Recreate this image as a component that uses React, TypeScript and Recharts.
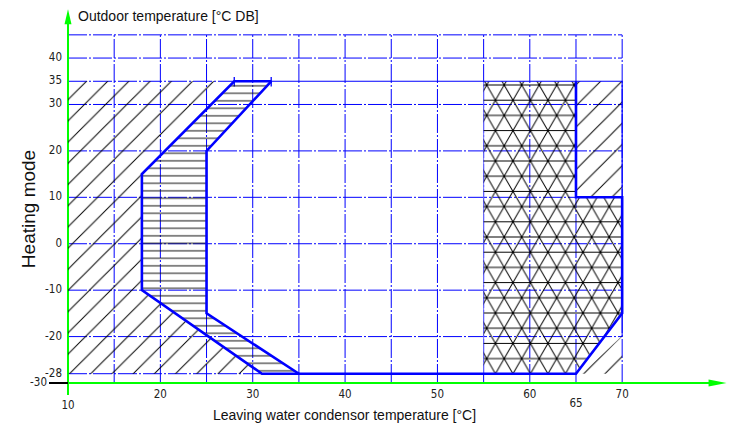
import React from "react";
import {
  ComposedChart,
  XAxis,
  YAxis,
  Scatter,
  ReferenceLine,
  ReferenceDot,
} from "recharts";

type Pt = { x: number; y: number };

// axis ticks and grid
const xTicks = [10, 20, 30, 40, 50, 60, 65, 70];
const yTicks = [-30, -28, -20, -10, 0, 10, 20, 30, 35, 40];
const gridX = [15, 20, 25, 30, 35, 40, 45, 50, 55, 60, 65, 70];
const gridY = [-20, -10, 0, 10, 20, 30, 40, 45];

// operating envelope (thick blue)
const envelopeOuter: Pt[] = [
  { x: 32, y: 35 },
  { x: 28, y: 35 },
  { x: 18, y: 15 },
  { x: 18, y: -10 },
  { x: 31, y: -28 },
  { x: 65, y: -28 },
  { x: 70, y: -15 },
  { x: 70, y: 10 },
  { x: 65, y: 10 },
  { x: 65, y: 35 },
];
const envelopeInner: Pt[] = [
  { x: 32, y: 35 },
  { x: 25, y: 20 },
  { x: 25, y: -15 },
  { x: 35, y: -28 },
];

// hatched zones
const leftHatch: Pt[] = [
  { x: 10, y: 35 },
  { x: 28, y: 35 },
  { x: 18, y: 15 },
  { x: 18, y: -10 },
  { x: 31, y: -28 },
  { x: 10, y: -28 },
];
const transitionBand: Pt[] = [
  { x: 28, y: 35 },
  { x: 32, y: 35 },
  { x: 25, y: 20 },
  { x: 25, y: -15 },
  { x: 35, y: -28 },
  { x: 31, y: -28 },
  { x: 18, y: -10 },
  { x: 18, y: 15 },
];
const highTempZone: Pt[] = [
  { x: 55, y: 35 },
  { x: 65, y: 35 },
  { x: 65, y: 10 },
  { x: 70, y: 10 },
  { x: 70, y: -15 },
  { x: 65, y: -28 },
  { x: 55, y: -28 },
];
const rightHatch: Pt[] = [
  { x: 65, y: 35 },
  { x: 70, y: 35 },
  { x: 70, y: 10 },
  { x: 65, y: 10 },
];
const cornerHatch: Pt[] = [
  { x: 65.6, y: -28 },
  { x: 70, y: -19.8 },
  { x: 70, y: -28 },
];

// thin solid borders
const thinTop: Pt[] = [
  { x: 28, y: 35 },
  { x: 70, y: 35 },
  { x: 70, y: 10 },
];
const thinCorner: Pt[] = [
  { x: 70, y: -15 },
  { x: 70, y: -20 },
];
const capMarks = [28, 32];

const BLUE = "#0000ff";
const GREEN = "#00ff00";
const DASH = "19 2 2 2";
const narrow = "'Liberation Sans Narrow', 'Arial Narrow', 'DejaVu Sans Condensed', sans-serif";
const sans = "'Liberation Sans', Arial, sans-serif";

const toStr = (pts: Pt[]) => (pts ?? []).map((q) => `${q.x},${q.y}`).join(" ");

const Patterns = () => {
  const w = 17.5;
  const h = 15.2;
  return (
    <defs>
      <pattern id="hatchL" patternUnits="userSpaceOnUse" x={19.3} y={0} width={21.2} height={21.2}>
        <path d="M0,21.2 L21.2,0 M-2,2 L2,-2 M19.2,23.2 L23.2,19.2" stroke="#000" strokeWidth={1} />
      </pattern>
      <pattern id="hatchR" patternUnits="userSpaceOnUse" x={3.5} y={0} width={21.2} height={21.2}>
        <path d="M0,21.2 L21.2,0 M-2,2 L2,-2 M19.2,23.2 L23.2,19.2" stroke="#000" strokeWidth={1} />
      </pattern>
      <pattern id="hatchH" patternUnits="userSpaceOnUse" x={0} y={-0.45} width={10} height={7.5}>
        <path d="M0,3.75 H10" stroke="#111" strokeWidth={1} />
      </pattern>
      <pattern id="lattice" patternUnits="userSpaceOnUse" x={14.2} y={85} width={w} height={2 * h}>
        <path
          d={[-w, 0, w]
            .map((dx) => `M${dx},0 L${dx + w},${2 * h} M${dx + w},0 L${dx},${2 * h}`)
            .join(" ") + ` M0,0 H${w} M0,${h} H${w} M0,${2 * h} H${w}`}
          stroke="#000"
          strokeWidth={1}
          fill="none"
        />
      </pattern>
    </defs>
  );
};

const fillShape = (fill: string, withDefs = false) => (p: any) => (
  <g>
    {withDefs ? <Patterns /> : null}
    <polygon points={toStr(p.points)} fill={fill} stroke="none" />
  </g>
);

const strokeShape = (stroke: string, width: number) => (p: any) => (
  <polyline
    points={toStr(p.points)}
    fill="none"
    stroke={stroke}
    strokeWidth={width}
    strokeLinejoin="miter"
  />
);

const noDot = () => <g />;

const XTick = (p: any) => {
  const v = p.payload.value;
  const dy = v === 10 ? 26 : v === 65 ? 24 : 15;
  return (
    <text x={p.x} y={p.y + dy} textAnchor="middle" fontSize={11.5} fontFamily={narrow} fill="#222">
      {v}
    </text>
  );
};

const YTick = (p: any) => {
  const v = p.payload.value;
  if (v === -30) {
    return (
      <g>
        <line x1={p.x - 19} y1={p.y} x2={p.x} y2={p.y} stroke="#000" strokeWidth={2} />
        <text x={p.x - 21} y={p.y + 3} textAnchor="end" fontSize={11.5} fontFamily={narrow} fill="#222">
          {v}
        </text>
      </g>
    );
  }
  return (
    <text x={p.x - 6} y={p.y + 3} textAnchor="end" fontSize={11.5} fontFamily={narrow} fill="#222">
      {v}
    </text>
  );
};

const upArrow = (p: any) => (
  <path d={`M${p.cx},${p.cy} L${p.cx - 3.5},${p.cy + 15} L${p.cx + 3.5},${p.cy + 15} Z`} fill={GREEN} />
);
const rightArrow = (p: any) => (
  <path d={`M${p.cx},${p.cy} L${p.cx - 18},${p.cy - 3.5} L${p.cx - 18},${p.cy + 3.5} Z`} fill={GREEN} />
);

export default function App() {
  return (
    <div style={{ position: "absolute", left: 0, top: 0, width: 733, height: 432, background: "#fff" }}>
      <ComposedChart
        width={733}
        height={432}
        margin={{ top: 7, right: 0, bottom: 19, left: 8 }}
      >
        <XAxis
          type="number"
          dataKey="x"
          domain={[10, 82]}
          ticks={xTicks}
          interval={0}
          axisLine={false}
          tickLine={false}
          tickSize={0}
          tickMargin={0}
          height={30}
          tick={<XTick />}
          allowDataOverflow
        />
        <YAxis
          type="number"
          dataKey="y"
          domain={[-30, 51]}
          ticks={yTicks}
          interval={0}
          axisLine={false}
          tickLine={false}
          tickSize={0}
          tickMargin={0}
          width={60}
          tick={<YTick />}
          allowDataOverflow
        />

        <Scatter data={leftHatch} dataKey="y" shape={noDot} line={fillShape("url(#hatchL)", true)} isAnimationActive={false} />
        <Scatter data={rightHatch} dataKey="y" shape={noDot} line={fillShape("url(#hatchR)")} isAnimationActive={false} />
        <Scatter data={cornerHatch} dataKey="y" shape={noDot} line={fillShape("url(#hatchR)")} isAnimationActive={false} />
        <Scatter data={transitionBand} dataKey="y" shape={noDot} line={fillShape("url(#hatchH)")} isAnimationActive={false} />
        <Scatter data={highTempZone} dataKey="y" shape={noDot} line={fillShape("url(#lattice)")} isAnimationActive={false} />

        {gridY.map((v) => (
          <ReferenceLine
            key={`gy${v}`}
            segment={[{ x: 10, y: v }, { x: 70, y: v }]}
            stroke={BLUE}
            strokeWidth={1}
            strokeDasharray={DASH}
          />
        ))}
        <ReferenceLine segment={[{ x: 10, y: 35 }, { x: 28, y: 35 }]} stroke={BLUE} strokeWidth={1} strokeDasharray={DASH} />
        <ReferenceLine segment={[{ x: 10, y: -28 }, { x: 31, y: -28 }]} stroke={BLUE} strokeWidth={1} strokeDasharray={DASH} />
        {gridX.map((v) => (
          <ReferenceLine
            key={`gx${v}`}
            segment={[{ x: v, y: -30 }, { x: v, y: 45 }]}
            stroke={BLUE}
            strokeWidth={1}
            strokeDasharray={DASH}
          />
        ))}
        <ReferenceLine segment={[{ x: 55, y: -28 }, { x: 55, y: 35 }]} stroke="#6f6fff" strokeWidth={1} />
        {capMarks.map((v) => (
          <ReferenceLine key={`cm${v}`} segment={[{ x: v, y: 33.9 }, { x: v, y: 35.9 }]} stroke={BLUE} strokeWidth={1.3} />
        ))}

        <Scatter data={thinTop} dataKey="y" shape={noDot} line={strokeShape(BLUE, 1.2)} isAnimationActive={false} />
        <Scatter data={thinCorner} dataKey="y" shape={noDot} line={strokeShape(BLUE, 1)} isAnimationActive={false} />
        <Scatter data={envelopeOuter} dataKey="y" shape={noDot} line={strokeShape(BLUE, 2.6)} isAnimationActive={false} />
        <Scatter data={envelopeInner} dataKey="y" shape={noDot} line={strokeShape(BLUE, 2.6)} isAnimationActive={false} />

        <ReferenceLine segment={[{ x: 10, y: -32.6 }, { x: 10, y: 49 }]} stroke={GREEN} strokeWidth={2} ifOverflow="visible" />
        <ReferenceLine segment={[{ x: 9.85, y: -30 }, { x: 80, y: -30 }]} stroke={GREEN} strokeWidth={2} ifOverflow="visible" />
        <ReferenceDot x={10} y={50.5} r={0} shape={upArrow} ifOverflow="visible" />
        <ReferenceDot x={81.3} y={-30} r={0} shape={rightArrow} ifOverflow="visible" />
      </ComposedChart>

      <svg
        width={733}
        height={432}
        style={{ position: "absolute", left: 0, top: 0, pointerEvents: "none" }}
      >
        <text x={78} y={21} fontSize={14} fontFamily={sans} fill="#111">
          Outdoor temperature [°C DB]
        </text>
        <text
          transform="translate(35,209) rotate(-90)"
          textAnchor="middle"
          fontSize={19}
          fontFamily={sans}
          fill="#111"
        >
          Heating mode
        </text>
        <text x={344.5} y={420} textAnchor="middle" fontSize={14} fontFamily={sans} fill="#111">
          Leaving water condensor temperature [°C]
        </text>
      </svg>
    </div>
  );
}
